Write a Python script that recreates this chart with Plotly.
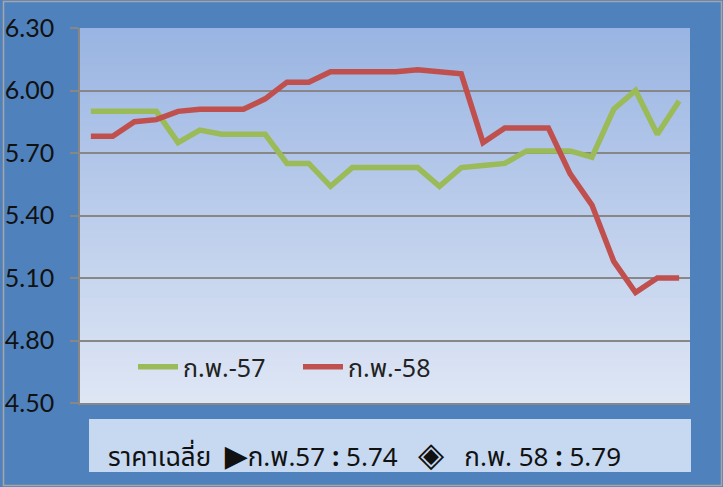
import numpy as np
import plotly.graph_objects as go

# ---------------- data ----------------
days = list(range(1, 29))
feb57 = [5.90, 5.90, 5.90, 5.90, 5.75, 5.81, 5.79, 5.79, 5.79, 5.65,
         5.65, 5.54, 5.63, 5.63, 5.63, 5.63, 5.54, 5.63, 5.64, 5.65,
         5.71, 5.71, 5.71, 5.68, 5.91, 6.00, 5.79, 5.95]
feb58 = [5.78, 5.78, 5.85, 5.86, 5.90, 5.91, 5.91, 5.91, 5.96, 6.04,
         6.04, 6.09, 6.09, 6.09, 6.09, 6.10, 6.09, 6.08, 5.75, 5.82,
         5.82, 5.82, 5.60, 5.45, 5.18, 5.03, 5.10, 5.10]
series_names = ["ก.พ.-57", "ก.พ.-58"]
y_ticks = [4.50, 4.80, 5.10, 5.40, 5.70, 6.00, 6.30]
avg_label = "ราคาเฉลี่ย"
avg_names = ["ก.พ.57", "ก.พ. 58"]

# ---------------- layout geometry ----------------
W, H = 723, 487
L, R, T, B = 80, 690, 28, 403   # plot area pixel box


def px(x):
    return (x - L) / (R - L)


def py(y):
    return (B - y) / (B - T)


BLUE = "#4F81BD"
GREEN = "#9BBB59"
RED = "#C0504D"
GRID = "#878787"
THAI = "Tahoma, 'Noto Sans Thai', 'Noto Sans', 'DejaVu Sans', sans-serif"

fig = go.Figure()
fig.add_trace(go.Scatter(x=days, y=feb57, mode="lines", name=series_names[0],
                         line=dict(color=GREEN, width=5.5)))
fig.add_trace(go.Scatter(x=days, y=feb58, mode="lines", name=series_names[1],
                         line=dict(color=RED, width=5.5)))

shapes = []
# gradient background of plot area (overlapping bands to avoid seams)
top_c = np.array([0x9A, 0xB5, 0xE3])
bot_c = np.array([0xDF, 0xE7, 0xF5])
n = 50
for i in range(n):
    c = (top_c + (bot_c - top_c) * (i + 0.5) / n).astype(int)
    shapes.append(dict(type="rect", xref="paper", yref="paper",
                       x0=0, x1=1, y1=1 - i / n,
                       y0=max(0, 1 - (i + 1) / n - 0.01),
                       fillcolor="rgb(%d,%d,%d)" % tuple(c),
                       line=dict(width=0), layer="below"))
# bottom box
shapes.append(dict(type="rect", xref="paper", yref="paper",
                   x0=px(89), x1=px(691), y0=py(472), y1=py(419),
                   fillcolor="#C6D9F1", line=dict(width=0), layer="below"))
# outer border
shapes.append(dict(type="rect", xref="paper", yref="paper",
                   x0=px(3.5), x1=px(721.5), y0=py(485.5), y1=py(1.5),
                   fillcolor="rgba(0,0,0,0)", line=dict(color="#A6A6A6", width=1.5),
                   layer="above"))

avg57 = np.mean(feb57)
avg58 = np.mean(feb58)
sp = "\u00a0"
ann_text = (f"{avg_label}{sp}{sp}<span style='font-size:30px'>▶</span>{avg_names[0]} <b>:</b> {avg57:.2f}"
            f"{sp*3}<span style='font-size:34px'>◈</span>{sp*3}{avg_names[1]} <b>:</b> {avg58:.2f}")

fig.update_layout(
    width=W, height=H,
    margin=dict(l=L, r=W - R, t=T, b=H - B, autoexpand=False),
    paper_bgcolor=BLUE,
    plot_bgcolor="rgba(0,0,0,0)",
    shapes=shapes,
    showlegend=True,
    legend=dict(orientation="h", x=px(133), y=py(367), xanchor="left",
                yanchor="middle", bgcolor="rgba(0,0,0,0)",
                font=dict(family=THAI, size=25, color="#222222"),
                itemwidth=40, entrywidth=110, tracegroupgap=0),
    annotations=[dict(text=ann_text, xref="paper", yref="paper",
                      x=px(106), y=py(455), xanchor="left", yanchor="middle",
                      showarrow=False,
                      font=dict(family=THAI, size=26, color="#111111"))],
    xaxis=dict(type="linear", range=[0.5, 28.5], showticklabels=False,
               showgrid=False, zeroline=False, showline=True,
               linecolor=GRID, linewidth=2, ticks="", automargin=False),
    yaxis=dict(range=[4.5, 6.3], tickvals=y_ticks, tickformat=".2f",
               showgrid=True, gridcolor=GRID, gridwidth=1.5,
               zeroline=False, showline=True, linecolor=GRID, linewidth=1.5,
               ticks="outside", ticklen=8, tickcolor=GRID, tickwidth=1.5,
               ticklabelstandoff=11, automargin=False,
               tickfont=dict(family="Lato, Calibri, sans-serif", size=25,
                             color="#111111")),
)

fig.write_html("out.html",
               config={"displayModeBar": False},
               post_script="document.body.style.margin='0px';"
                           "document.body.style.overflow='hidden';")
